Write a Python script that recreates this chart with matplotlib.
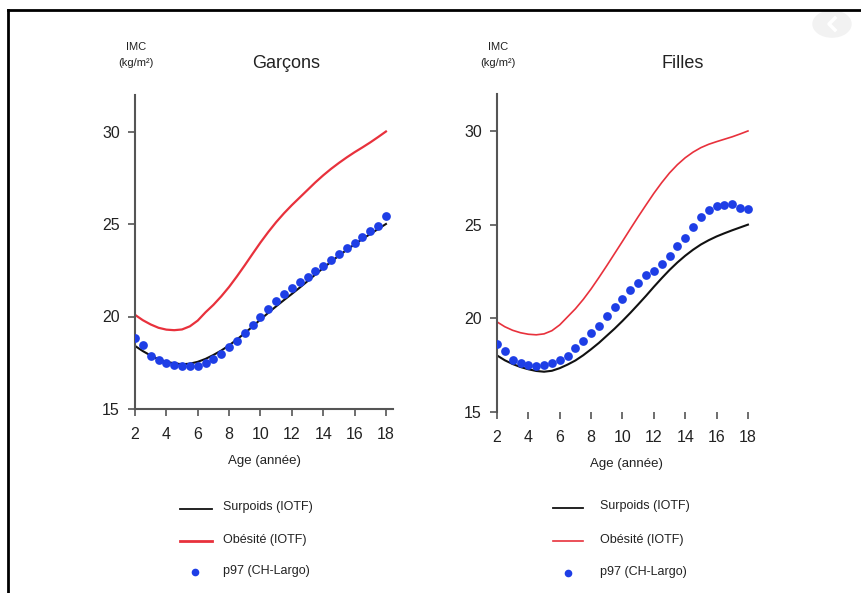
import numpy as np
import matplotlib.pyplot as plt
from matplotlib.lines import Line2D
from matplotlib.patches import Circle

plt.rcParams['font.family'] = ['Liberation Sans', 'DejaVu Sans']

# Ages (années), half-year steps
age = np.arange(2, 18.01, 0.5)

# IOTF cut-offs, garçons
surpoids_g = [18.41, 18.13, 17.89, 17.69, 17.55, 17.47, 17.42, 17.45, 17.55, 17.71,
              17.92, 18.16, 18.44, 18.76, 19.10, 19.46, 19.84, 20.20, 20.55, 20.89,
              21.22, 21.56, 21.91, 22.27, 22.62, 22.96, 23.29, 23.60, 23.90, 24.19,
              24.46, 24.73, 25.00]
obesite_g = [20.09, 19.80, 19.57, 19.39, 19.29, 19.26, 19.30, 19.47, 19.78, 20.23,
             20.63, 21.09, 21.60, 22.17, 22.77, 23.39, 24.00, 24.57, 25.10, 25.58,
             26.02, 26.43, 26.84, 27.25, 27.63, 27.98, 28.30, 28.60, 28.88, 29.14,
             29.41, 29.70, 30.00]
p97_g = [18.85, 18.45, 17.85, 17.65, 17.50, 17.40, 17.30, 17.30, 17.35, 17.50,
         17.70, 18.00, 18.35, 18.70, 19.10, 19.55, 19.95, 20.40, 20.85, 21.20,
         21.55, 21.85, 22.15, 22.45, 22.75, 23.05, 23.40, 23.70, 24.00, 24.30,
         24.60, 24.90, 25.45]

# IOTF cut-offs, filles
surpoids_f = [18.02, 17.76, 17.56, 17.40, 17.28, 17.19, 17.15, 17.20, 17.34, 17.53,
              17.75, 18.03, 18.35, 18.69, 19.07, 19.45, 19.86, 20.29, 20.74, 21.20,
              21.68, 22.14, 22.58, 22.98, 23.34, 23.66, 23.94, 24.17, 24.37, 24.54,
              24.70, 24.85, 25.00]
obesite_f = [19.81, 19.55, 19.36, 19.23, 19.15, 19.12, 19.17, 19.34, 19.65, 20.08,
             20.51, 21.01, 21.57, 22.18, 22.81, 23.46, 24.11, 24.77, 25.42, 26.05,
             26.67, 27.24, 27.76, 28.20, 28.57, 28.87, 29.11, 29.29, 29.43, 29.56,
             29.69, 29.84, 30.00]
p97_f = [18.65, 18.25, 17.80, 17.60, 17.50, 17.45, 17.50, 17.60, 17.80, 18.00,
         18.40, 18.80, 19.20, 19.60, 20.10, 20.60, 21.05, 21.50, 21.90, 22.30,
         22.55, 22.90, 23.30, 23.85, 24.30, 24.90, 25.40, 25.80, 26.00, 26.05,
         26.10, 25.90, 25.85]

xticks = [2, 4, 6, 8, 10, 12, 14, 16, 18]
yticks = [15, 20, 25, 30]

W, H = 861, 593
fig = plt.figure(figsize=(W / 100, H / 100), dpi=100)
fig.patch.set_facecolor('white')

def fx(x):
    return x / W

def fy(y):
    return 1 - y / H

txt = '#222222'
red = '#e8313c'
blue = '#1e3ee6'

panels = [
    dict(rect=[fx(135), fy(409), 258 / W, 314.5 / H], title='Garçons', tx=286,
         s=surpoids_g, o=obesite_g, p=p97_g, bottom=True, rlw=1.6, lx=135),
    dict(rect=[fx(497), fy(412), 258 / W, 318.5 / H], title='Filles', tx=683,
         s=surpoids_f, o=obesite_f, p=p97_f, bottom=False, rlw=1.2, lx=497),
]

for pn in panels:
    ax = fig.add_axes(pn['rect'])
    ax.plot(age, pn['s'], color='#111111', lw=1.5, zorder=2)
    ax.plot(age, pn['o'], color=red, lw=pn['rlw'], zorder=2)
    ax.plot(age, pn['p'], 'o', color=blue, ms=6.3, mec='none', zorder=3)
    ax.set_xlim(2, 18.45)
    ax.set_ylim(15, 32)
    ax.set_xticks(xticks)
    ax.set_yticks(yticks)
    for side in ['top', 'right']:
        ax.spines[side].set_visible(False)
    ax.spines['bottom'].set_visible(pn['bottom'])
    ax.spines['left'].set_color('#555555')
    ax.spines['bottom'].set_color('#555555')
    ax.spines['left'].set_linewidth(1.5)
    ax.spines['bottom'].set_linewidth(1.5)
    ax.tick_params(axis='both', direction='out', length=5, width=1.2,
                   color='#555555', labelcolor=txt, labelsize=11.5)
    ax.tick_params(axis='y', pad=6)
    ax.tick_params(axis='x', pad=8)
    ax.set_xlabel('Age (année)', fontsize=9.5, color=txt, labelpad=9)
    fig.text(fx(pn['tx']), fy(63), pn['title'], fontsize=13, color=txt,
             ha='center', va='center')
    fig.text(fx(pn['lx'] + 1), fy(47), 'IMC', fontsize=8, color=txt,
             ha='center', va='center')
    fig.text(fx(pn['lx'] + 1), fy(63), '(kg/m²)', fontsize=8, color=txt,
             ha='center', va='center')

# legends, drawn in figure pixels
legends = [
    dict(x0=180, x1=212, dot=195, tx=223, ys=[507, 540, 571], rlw=2.0),
    dict(x0=553, x1=583, dot=568, tx=600, ys=[506, 540, 572], rlw=1.2),
]
labels = ['Surpoids (IOTF)', 'Obésité (IOTF)', 'p97 (CH-Largo)']
for lg in legends:
    y0, y1, y2 = lg['ys']
    fig.add_artist(Line2D([fx(lg['x0']), fx(lg['x1'])], [fy(y0 + 2), fy(y0 + 2)],
                          color='#111111', lw=1.3))
    fig.add_artist(Line2D([fx(lg['x0']), fx(lg['x1'])], [fy(y1 + 1), fy(y1 + 1)],
                          color=red, lw=lg['rlw']))
    fig.add_artist(Line2D([fx(lg['dot'])], [fy(y2 + 1)], marker='o', ms=5.5,
                          color=blue, mec='none', lw=0))
    for y, lab in zip(lg['ys'], labels):
        fig.text(fx(lg['tx']), fy(y), lab, fontsize=9, color=txt,
                 ha='left', va='center')

# frame edges and the round button in the corner
fig.add_artist(Line2D([fx(8), fx(W)], [fy(10), fy(10)], color='black', lw=2))
fig.add_artist(Line2D([fx(8), fx(8)], [fy(10), fy(H)], color='black', lw=2))
fig.add_artist(Circle((fx(832), fy(24)), 19 / W, color='#f2f2f2',
                      transform=fig.transFigure))
fig.add_artist(Line2D([fx(835), fx(829), fx(835)], [fy(18), fy(24), fy(30)],
                      color='white', lw=2.5))

fig.savefig('out.png', dpi=100, facecolor='white')
